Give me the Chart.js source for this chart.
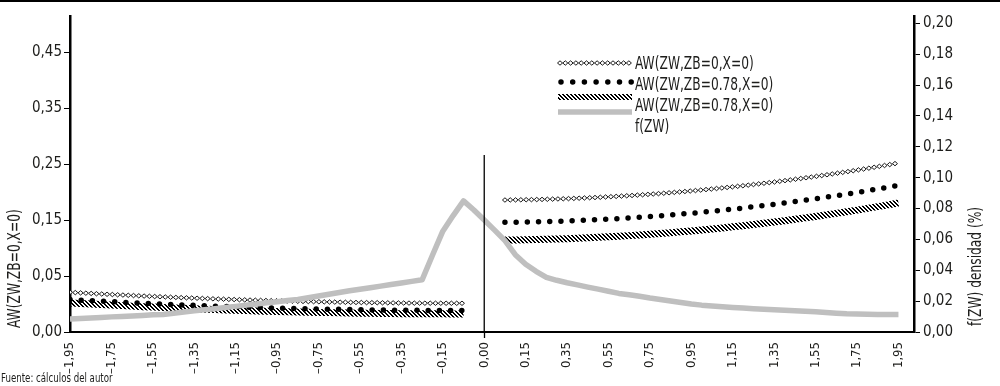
<!DOCTYPE html>
<html lang="es">
<head>
<meta charset="utf-8">
<title>AW(ZW) y densidad f(ZW)</title>
<script src="https://cdn.jsdelivr.net/npm/chart.js@4/dist/chart.umd.min.js"></script>
<style>
  html, body { margin: 0; padding: 0; background: #fff; }
  #wrap { width: 1000px; height: 386px; position: relative; }
</style>
</head>
<body>
<div id="wrap"><canvas id="chart" width="1000" height="386"></canvas></div>
<script>
// ZW grid (one category per point; the jump at zero has two extra steps)
const categories = [
  -1.95, -1.9, -1.85, -1.8, -1.75, -1.7, -1.65, -1.6, -1.55, -1.5,
  -1.45, -1.4, -1.35, -1.3, -1.25, -1.2, -1.15, -1.1, -1.05, -1,
  -0.95, -0.9, -0.85, -0.8, -0.75, -0.7, -0.65, -0.6, -0.55, -0.5,
  -0.45, -0.4, -0.35, -0.3, -0.25, -0.2, -0.15, -0.1, -0.05,
  -0.025, 0, 0.025,
  0.05, 0.1, 0.15, 0.2, 0.25, 0.3, 0.35, 0.4, 0.45, 0.5,
  0.55, 0.6, 0.65, 0.7, 0.75, 0.8, 0.85, 0.9, 0.95, 1,
  1.05, 1.1, 1.15, 1.2, 1.25, 1.3, 1.35, 1.4, 1.45, 1.5,
  1.55, 1.6, 1.65, 1.7, 1.75, 1.8, 1.85, 1.9, 1.95
];

// categories that carry a label on the ZW axis
const tickCategories = [
  -1.95, -1.75, -1.55, -1.35, -1.15, -0.95, -0.75, -0.55, -0.35, -0.15,
  0, 0.15, 0.35, 0.55, 0.75, 0.95, 1.15, 1.35, 1.55, 1.75, 1.95
];

// left axis ticks and their printed labels
const leftTickValues = [-0.05, 0.05, 0.15, 0.25, 0.35, 0.45];
const leftTickLabels = ['0,00', '0,05', '0,15', '0,25', '0,35', '0,45'];

// right axis (density) ticks
const rightTickValues = [0, 0.02, 0.04, 0.06, 0.08, 0.1, 0.12, 0.14, 0.16, 0.18, 0.2];
const rightTickLabels = ['0,00', '0,02', '0,04', '0,06', '0,08', '0,10', '0,12', '0,14', '0,16', '0,18', '0,20'];

// AW(ZW, ZB=0, X=0)
const awZB0 = [
  0.0209, 0.0199, 0.0189, 0.0179, 0.0170, 0.0161, 0.0152, 0.0143, 0.0135, 0.0127,
  0.0119, 0.0112, 0.0105, 0.0098, 0.0091, 0.0085, 0.0079, 0.0073, 0.0067, 0.0062,
  0.0057, 0.0052, 0.0048, 0.0044, 0.0040, 0.0036, 0.0033, 0.0029, 0.0027, 0.0024,
  0.0022, 0.0020, 0.0018, 0.0016, 0.0015, 0.0014, 0.0014, 0.0013, 0.0013,
  null, null, null,
  0.1857, 0.1859, 0.1862, 0.1865, 0.1870, 0.1875, 0.1881, 0.1888, 0.1896, 0.1904,
  0.1914, 0.1924, 0.1935, 0.1947, 0.1960, 0.1973, 0.1988, 0.2003, 0.2019, 0.2036,
  0.2054, 0.2073, 0.2092, 0.2112, 0.2134, 0.2156, 0.2178, 0.2202, 0.2227, 0.2252,
  0.2278, 0.2305, 0.2333, 0.2361, 0.2391, 0.2421, 0.2453, 0.2485, 0.2518
];

// AW(ZW, ZB=0.78, X=0) - dotted
const awZB078 = [
  0.0080, 0.0070, 0.0060, 0.0050, 0.0041, 0.0032, 0.0023, 0.0014, 0.0006, -0.0002,
  -0.0010, -0.0017, -0.0024, -0.0031, -0.0038, -0.0044, -0.0050, -0.0056, -0.0062, -0.0067,
  -0.0072, -0.0077, -0.0081, -0.0085, -0.0089, -0.0093, -0.0096, -0.0100, -0.0102, -0.0105,
  -0.0107, -0.0109, -0.0111, -0.0113, -0.0114, -0.0115, -0.0115, -0.0116, -0.0116,
  null, null, null,
  0.1459, 0.1461, 0.1464, 0.1467, 0.1472, 0.1477, 0.1483, 0.1490, 0.1498, 0.1506,
  0.1516, 0.1526, 0.1537, 0.1549, 0.1562, 0.1575, 0.1590, 0.1605, 0.1621, 0.1638,
  0.1656, 0.1675, 0.1694, 0.1714, 0.1736, 0.1758, 0.1780, 0.1804, 0.1829, 0.1854,
  0.1880, 0.1907, 0.1935, 0.1963, 0.1993, 0.2023, 0.2055, 0.2087, 0.2120
];

// AW(ZW, ZB=0.78, X=0) - hatched
const awZB078h = [
  0.0019, 0.0009, -0.0001, -0.0011, -0.0020, -0.0029, -0.0038, -0.0047, -0.0055, -0.0063,
  -0.0071, -0.0078, -0.0085, -0.0092, -0.0099, -0.0105, -0.0111, -0.0117, -0.0123, -0.0128,
  -0.0133, -0.0138, -0.0142, -0.0146, -0.0150, -0.0154, -0.0157, -0.0161, -0.0163, -0.0166,
  -0.0168, -0.0170, -0.0172, -0.0174, -0.0175, -0.0176, -0.0176, -0.0177, -0.0177,
  null, null, null,
  0.1143, 0.1145, 0.1148, 0.1151, 0.1156, 0.1161, 0.1167, 0.1174, 0.1182, 0.1190,
  0.1200, 0.1210, 0.1221, 0.1233, 0.1246, 0.1259, 0.1274, 0.1289, 0.1305, 0.1322,
  0.1340, 0.1359, 0.1378, 0.1398, 0.1420, 0.1442, 0.1464, 0.1488, 0.1513, 0.1538,
  0.1564, 0.1591, 0.1619, 0.1647, 0.1677, 0.1707, 0.1739, 0.1771, 0.1804
];

// f(ZW) density, right axis
const densityF = [
  0.0085, 0.0088, 0.0091, 0.0094, 0.0098, 0.0101, 0.0104, 0.0107, 0.0111, 0.0114,
  0.0122, 0.0129, 0.0137, 0.0144, 0.0151, 0.0159, 0.0166, 0.0174, 0.0181, 0.0189,
  0.0196, 0.0204, 0.0211, 0.0222, 0.0233, 0.0244, 0.0256, 0.0267, 0.0277, 0.0287,
  0.0297, 0.0308, 0.0318, 0.0328, 0.0338, 0.0497, 0.0653, 0.0754, 0.0849, 0.0790,
  0.0725, 0.0660, 0.0592, 0.0501, 0.0439, 0.0393, 0.0354, 0.0335, 0.0319, 0.0305,
  0.0291, 0.0278, 0.0264, 0.0250, 0.0241, 0.0231, 0.0220, 0.0211, 0.0201, 0.0191,
  0.0181, 0.0174, 0.0169, 0.0164, 0.0159, 0.0155, 0.0151, 0.0148, 0.0144, 0.0141,
  0.0138, 0.0135, 0.0131, 0.0126, 0.0122, 0.0118, 0.0116, 0.0115, 0.0114, 0.0114,
  0.0114
];

// vertical marker at ZW = 0 (left axis, bottom to top)
const zeroMarker = [-0.05, 0.266];

const FONT = '"DejaVu Sans Condensed", "DejaVu Sans", sans-serif';
const INK = '#1d1d1b';
const GREY = '#bfbfbf';
const NARROW = 0.8;   // horizontal squeeze for free-standing captions

const canvas = document.getElementById('chart');
const ctx2d = canvas.getContext('2d');

// crisp diagonal hatch used as a stroke style
function makeHatch() {
  const tile = document.createElement('canvas');
  tile.width = 4; tile.height = 4;
  const g = tile.getContext('2d');
  g.fillStyle = '#000';
  for (let i = 0; i < 4; i++) {
    g.fillRect(i, i, 1, 1);
    g.fillRect((i + 1) % 4, i, 1, 1);
  }
  return ctx2d.createPattern(tile, 'repeat');
}
const hatch = makeHatch();

// chain of small hollow diamonds laid along a polyline
function stampDiamonds(ctx, runs, step, w, h) {
  ctx.save();
  ctx.fillStyle = '#fff';
  ctx.strokeStyle = '#000';
  ctx.lineWidth = 0.9;
  ctx.setLineDash([]);
  runs.forEach(run => {
    let d = 0;
    for (let j = 0; j < run.length - 1; j++) {
      const a = run[j], b = run[j + 1];
      const len = Math.hypot(b.x - a.x, b.y - a.y);
      if (len === 0) continue;
      while (d <= len) {
        const x = a.x + (b.x - a.x) * d / len;
        const y = a.y + (b.y - a.y) * d / len;
        ctx.beginPath();
        ctx.moveTo(x, y - h); ctx.lineTo(x + w, y);
        ctx.lineTo(x, y + h); ctx.lineTo(x - w, y);
        ctx.closePath();
        ctx.fill(); ctx.stroke();
        d += step;
      }
      d -= len;
    }
  });
  ctx.restore();
}

const DIAMOND = { step: 5.3, w: 2.5, h: 2.2 };

const diamondChain = {
  id: 'diamondChain',
  afterDatasetDraw(chart, args) {
    const ds = chart.data.datasets[args.index];
    if (!ds.diamondChain) return;
    const runs = [];
    let cur = [];
    args.meta.data.forEach(p => {
      if (p.skip) { if (cur.length) runs.push(cur); cur = []; }
      else cur.push({ x: p.x, y: p.y });
    });
    if (cur.length) runs.push(cur);
    const ctx = chart.ctx, a = chart.chartArea;
    ctx.save();
    ctx.beginPath();
    ctx.rect(a.left, a.top - 4, a.right - a.left, a.bottom - a.top + 4);
    ctx.clip();
    stampDiamonds(ctx, runs, DIAMOND.step, DIAMOND.w, DIAMOND.h);
    ctx.restore();
  }
};

function narrowText(ctx, text, x, y, angle) {
  ctx.save();
  ctx.translate(x, y);
  if (angle) ctx.rotate(angle);
  ctx.scale(NARROW, 1);
  ctx.fillText(text, 0, 0);
  ctx.restore();
}

// legend, axis captions, source note and top rule
const decorations = {
  id: 'decorations',
  afterDraw(chart) {
    const ctx = chart.ctx;
    const ds = chart.data.datasets;
    ctx.save();

    ctx.fillStyle = '#000';
    ctx.fillRect(0, 0, 1000, 2);

    // legend samples
    const x0 = 558, x1 = 632;
    stampDiamonds(ctx, [[{ x: x0 + 2, y: 63 }, { x: x1, y: 63 }]], DIAMOND.step, DIAMOND.w, DIAMOND.h);

    ctx.save();
    ctx.strokeStyle = ds[1].borderColor;
    ctx.lineWidth = ds[1].borderWidth;
    ctx.lineCap = ds[1].borderCapStyle;
    ctx.setLineDash([0, 11.7]);
    ctx.beginPath(); ctx.moveTo(x0 + 3, 82); ctx.lineTo(x1 + 1, 82); ctx.stroke();
    ctx.restore();

    ctx.save();
    ctx.strokeStyle = ds[2].borderColor;
    ctx.lineWidth = 6;
    ctx.beginPath(); ctx.moveTo(x0, 97); ctx.lineTo(x1, 97); ctx.stroke();
    ctx.restore();

    ctx.save();
    ctx.strokeStyle = ds[3].borderColor;
    ctx.lineWidth = ds[3].borderWidth;
    ctx.beginPath(); ctx.moveTo(x0, 112); ctx.lineTo(x1, 112); ctx.stroke();
    ctx.restore();

    ctx.fillStyle = INK;
    ctx.font = '17px ' + FONT;
    ctx.textAlign = 'left';
    ctx.textBaseline = 'middle';
    [ds[0].label, ds[1].label, ds[2].label, ds[3].label].forEach((t, k) => {
      narrowText(ctx, t, 635, 65 + 21 * k, 0);
    });

    // axis captions, read bottom to top
    narrowText(ctx, 'AW(ZW,ZB=0,X=0)', 16, 328, -Math.PI / 2);
    narrowText(ctx, 'f(ZW) densidad (%)', 977, 326, -Math.PI / 2);

    ctx.font = '12px ' + FONT;
    narrowText(ctx, 'Fuente: cálculos del autor', 1, 379, 0);
    ctx.restore();
  }
};

const toPoints = arr => arr.map((v, i) => ({ x: i, y: v }));
const zeroIndex = categories.indexOf(0);
const fmtZW = v => (v < 0 ? '\u2013' : '') + Math.abs(v).toFixed(2).replace('.', ',');

new Chart(canvas, {
  type: 'line',
  data: {
    datasets: [
      {
        label: 'AW(ZW,ZB=0,X=0)',
        data: toPoints(awZB0),
        yAxisID: 'y',
        showLine: false,
        pointRadius: 0,
        diamondChain: true,
        order: 3
      },
      {
        label: 'AW(ZW,ZB=0.78,X=0)',
        data: toPoints(awZB078),
        yAxisID: 'y',
        borderColor: '#000',
        borderWidth: 5.5,
        borderDash: [0, 11.2],
        borderCapStyle: 'round',
        pointRadius: 0,
        order: 1
      },
      {
        label: 'AW(ZW,ZB=0.78,X=0)',
        data: toPoints(awZB078h),
        yAxisID: 'y',
        borderColor: hatch,
        borderWidth: 7,
        pointRadius: 0,
        order: 2
      },
      {
        label: 'f(ZW)',
        data: toPoints(densityF),
        yAxisID: 'y1',
        borderColor: GREY,
        borderWidth: 5.5,
        borderJoinStyle: 'round',
        pointRadius: 0,
        order: 0
      },
      {
        label: 'ZW = 0',
        data: zeroMarker.map(v => ({ x: zeroIndex, y: v })),
        yAxisID: 'y',
        borderColor: '#000',
        borderWidth: 1.3,
        pointRadius: 0,
        order: -1
      }
    ]
  },
  options: {
    responsive: false,
    devicePixelRatio: 1,
    animation: false,
    events: [],
    spanGaps: false,
    layout: { padding: { top: 16, left: 0, right: 0, bottom: 0 } },
    plugins: {
      legend: { display: false },
      tooltip: { enabled: false }
    },
    scales: {
      x: {
        type: 'linear',
        min: 0,
        max: 81.5,
        afterBuildTicks: s => { s.ticks = tickCategories.map(v => ({ value: categories.indexOf(v) })); },
        afterFit: s => { s.height = 54; },
        ticks: {
          callback: (v, i) => fmtZW(tickCategories[i]),
          minRotation: 90,
          maxRotation: 90,
          autoSkip: false,
          padding: 4,
          color: INK,
          font: { family: FONT, size: 13 }
        },
        grid: {
          drawOnChartArea: false,
          drawTicks: true,
          tickLength: 6,
          tickWidth: 1.3,
          tickColor: c => (c.tick && c.tick.value === zeroIndex) ? '#000' : 'rgba(0,0,0,0)'
        },
        border: { display: true, color: '#000', width: 2 }
      },
      y: {
        position: 'left',
        min: -0.05,
        max: 0.5143,
        afterBuildTicks: s => { s.ticks = leftTickValues.map(v => ({ value: v })); },
        afterFit: s => { s.width = 70; },
        ticks: {
          callback: (v, i) => leftTickLabels[i],
          padding: 2,
          color: INK,
          font: { family: FONT, size: 15 }
        },
        grid: { drawOnChartArea: false, drawTicks: true, tickLength: 6, tickWidth: 1, tickColor: '#000' },
        border: { display: true, color: '#000', width: 2.5 }
      },
      y1: {
        position: 'right',
        min: 0,
        max: 0.2047,
        afterBuildTicks: s => { s.ticks = rightTickValues.map(v => ({ value: v })); },
        afterFit: s => { s.width = 86; },
        ticks: {
          callback: (v, i) => rightTickLabels[i],
          padding: 3,
          color: INK,
          font: { family: FONT, size: 15 }
        },
        grid: { drawOnChartArea: false, drawTicks: true, tickLength: 6, tickWidth: 1, tickColor: '#000' },
        border: { display: true, color: '#000', width: 2.5 }
      }
    }
  },
  plugins: [diamondChain, decorations]
});
</script>
</body>
</html>
